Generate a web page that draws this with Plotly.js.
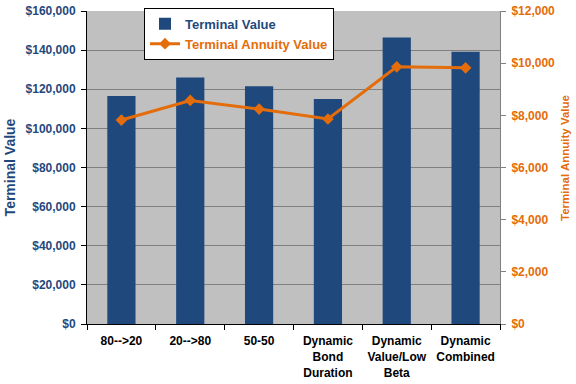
<!DOCTYPE html>
<html><head><meta charset="utf-8">
<script src="https://cdn.plot.ly/plotly-3.0.1.min.js"></script>
<style>html,body{margin:0;padding:0;background:#fff;}</style>
</head><body><div id="chart" style="width:576px;height:384px;"></div>
<script>
const categories = ["80-->20", "20-->80", "50-50", "Dynamic<br>Bond<br>Duration", "Dynamic<br>Value/Low<br>Beta", "Dynamic<br>Combined"];
const terminalValue = [116500, 126000, 121500, 115000, 146500, 139200];
const terminalAnnuityValue = [7820, 8570, 8240, 7860, 9860, 9820];
const leftTicks = [0, 20000, 40000, 60000, 80000, 100000, 120000, 140000, 160000];
const rightTicks = [0, 2000, 4000, 6000, 8000, 10000, 12000];

const navy = "#1F497D", orange = "#E46C0A";
const fontFam = "Liberation Sans, Arial, sans-serif";

const data = [
  {type: "bar", x: categories, y: terminalValue, name: "Terminal Value",
   marker: {color: navy}, width: 0.41},
  {type: "scatter", mode: "lines+markers", x: categories, y: terminalAnnuityValue,
   name: "Terminal Annuity Value", yaxis: "y2",
   line: {color: orange, width: 3}, marker: {symbol: "diamond", size: 9, color: orange}}
];
const fmt = v => "$" + v.toLocaleString("en-US");
const layout = {
  width: 576, height: 384,
  margin: {l: 87, r: 76, t: 8, b: 60},
  paper_bgcolor: "#fff", plot_bgcolor: "#C0C0C0",
  showlegend: true,
  legend: {x: 0.138, y: 1.01, xanchor: "left", yanchor: "top",
    bgcolor: "#fff", bordercolor: "#000", borderwidth: 1,
    font: {family: fontFam, size: 13, color: navy, weight: "bold"}, tracegroupgap: 6},
  xaxis: {type: "category", tickson: "boundaries", ticks: "outside", ticklen: 5, tickcolor: "#000",
    showline: true, linecolor: "#000", linewidth: 1, showgrid: false, ticklabelstandoff: 6,
    tickfont: {family: fontFam, size: 12, color: "#000", weight: "bold"}},
  yaxis: {range: [0, 160000], tickvals: leftTicks, ticktext: leftTicks.map(fmt),
    showline: true, linecolor: "#000", ticks: "outside", ticklen: 5, tickcolor: "#000",
    gridcolor: "#808080", gridwidth: 1, zeroline: false, ticklabelstandoff: 3,
    tickfont: {family: fontFam, size: 12, color: navy, weight: "bold"},
    title: {text: "Terminal Value", standoff: 6, font: {family: fontFam, size: 14, color: navy, weight: "bold"}}},
  yaxis2: {range: [0, 12000], overlaying: "y", side: "right", tickvals: rightTicks, ticktext: rightTicks.map(fmt),
    showline: true, linecolor: "#808080", ticks: "outside", ticklen: 5, tickcolor: "#808080",
    showgrid: false, zeroline: false, ticklabelstandoff: 3,
    tickfont: {family: fontFam, size: 12, color: orange, weight: "bold"}},
  annotations: [{text: "Terminal Annuity Value", xref: "paper", yref: "paper",
    x: 1.157, y: 0.53, xanchor: "center", yanchor: "middle", textangle: -90, showarrow: false,
    font: {family: fontFam, size: 11.5, color: orange, weight: "bold"}}]
};
Plotly.newPlot("chart", data, layout, {displayModeBar: false, staticPlot: true}).then(() => {
  const texts = document.querySelectorAll(".legendtext");
  if (texts[1]) texts[1].style.fill = orange;
});
</script></body></html>
